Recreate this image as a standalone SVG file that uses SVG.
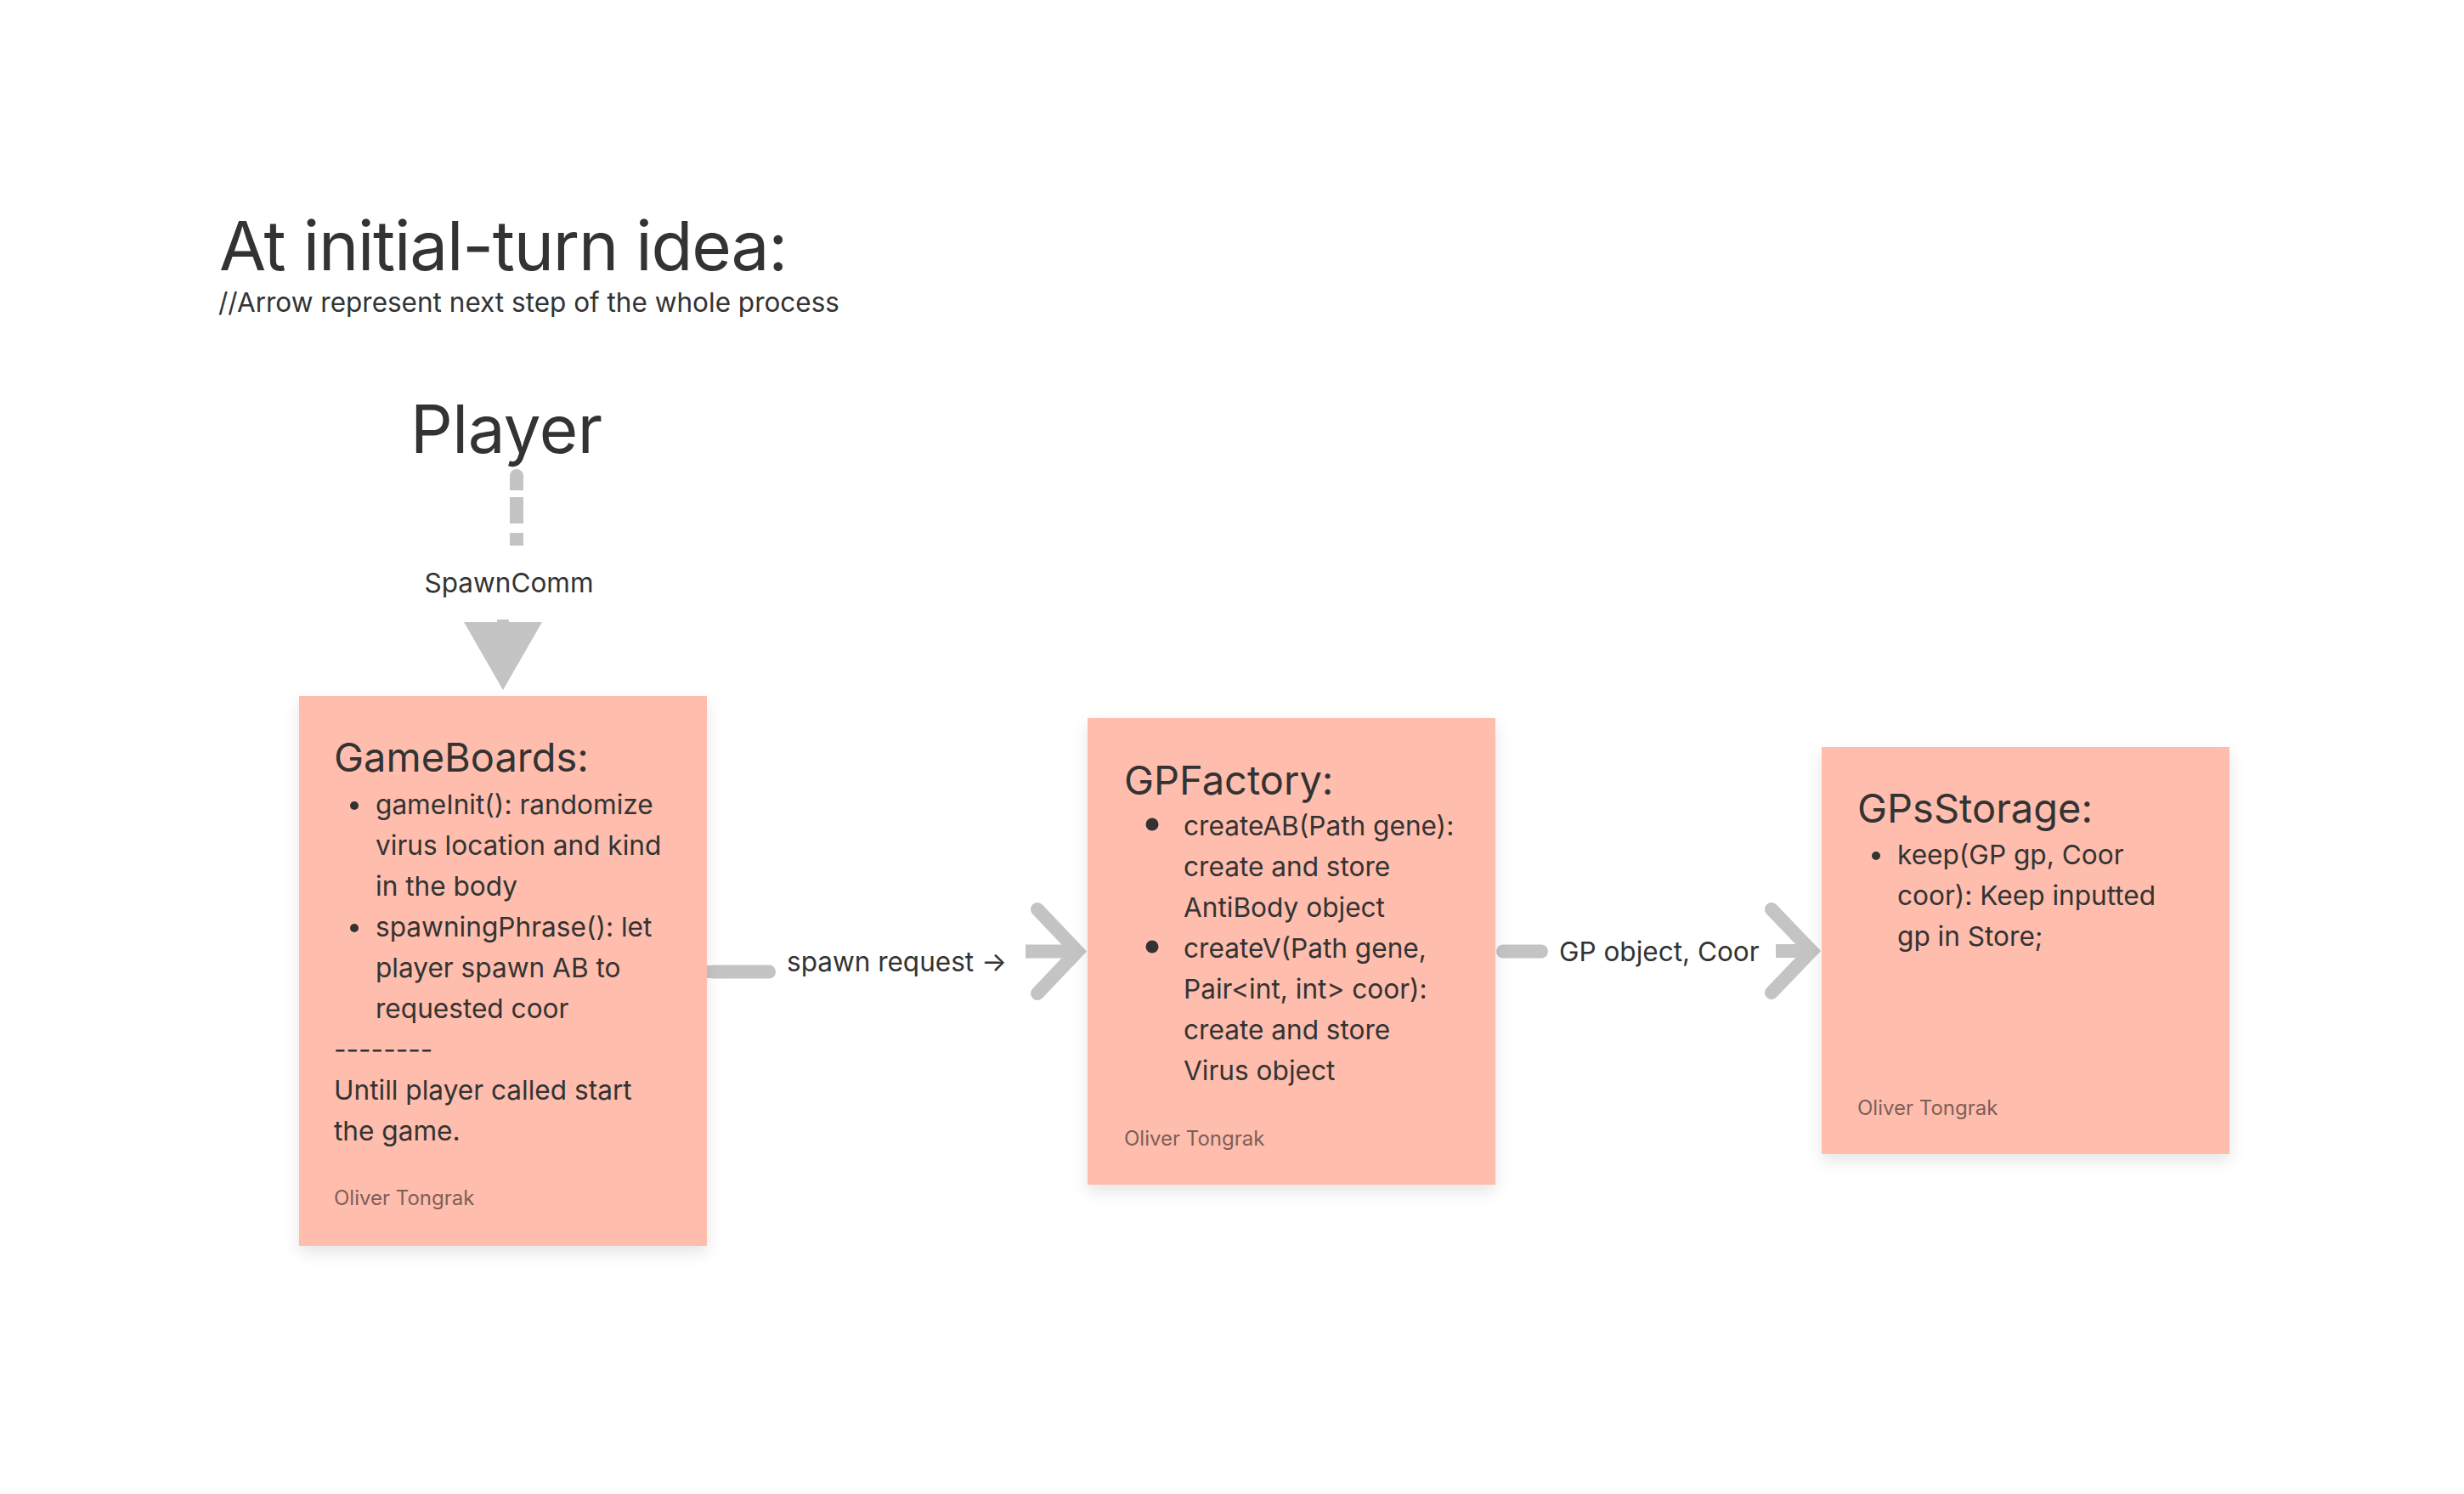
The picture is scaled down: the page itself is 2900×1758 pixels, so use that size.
<svg xmlns="http://www.w3.org/2000/svg" width="2900" height="1758" viewBox="0 0 2900 1758">
<defs>
<style>
text{font-family:Inter,"Noto Sans","Liberation Sans",sans-serif;fill:#333333}
.title{font-size:80px;letter-spacing:-1.2px}
.sub{font-size:31.5px}
.player{font-size:78px;letter-spacing:-0.5px}
.head{font-size:47px}
.body{font-size:31.6px}
.author{font-size:24px;fill:#7d5f58}
.lbl{font-size:31.5px}
.sticky{fill:#FFBDAD;filter:url(#sh)}
.conn{stroke:#c4c4c4;fill:none;stroke-width:16}
.dot{fill:#333333}
</style>
<filter id="sh" x="-20%" y="-20%" width="140%" height="140%">
<feDropShadow dx="0" dy="8" stdDeviation="9" flood-color="#000" flood-opacity="0.10"/>
</filter>
</defs>
<rect width="2900" height="1758" fill="#ffffff"/>

<g id="title">
<text class="title" x="258" y="318">At initial-turn idea:</text>
<text class="sub" x="257" y="367">//Arrow represent next step of the whole process</text>
</g>

<g id="player">
<text class="player" x="483" y="533">Player</text>
</g>

<g id="connectors">
<path d="M600,577 V560 A8,8 0 0 1 616,560 V577 Z" fill="#c4c4c4"/>
<rect x="600" y="585" width="16" height="31" fill="#c4c4c4"/>
<rect x="600" y="627" width="16" height="15" fill="#c4c4c4"/>
<text class="lbl" x="599" y="697" text-anchor="middle">SpawnComm</text>
<rect x="585" y="729" width="14" height="5" fill="#c4c4c4"/>
<polygon points="546,732 638,732 592,812" fill="#c4c4c4"/>

<path class="conn" d="M840,1143.5 H905" stroke-linecap="round"/>
<rect x="832" y="1136" width="73" height="15" fill="#c4c4c4"/>
<text class="lbl" x="926" y="1143">spawn request →</text>
<path class="conn" d="M1207,1119.5 H1265"/>
<path class="conn" d="M1221,1070 L1268,1119.5 L1221,1169" stroke-linecap="round" stroke-linejoin="miter"/>

<path class="conn" d="M1769,1119.5 H1814" stroke-linecap="round"/>
<text class="lbl" x="1835" y="1131">GP object, Coor</text>
<path class="conn" d="M2090,1119 H2130"/>
<path class="conn" d="M2085,1070 L2132,1119 L2085,1168" stroke-linecap="round" stroke-linejoin="miter"/>
</g>

<g id="gameboards">
<rect class="sticky" x="352" y="819" width="480" height="647"/>
<text class="head" x="393" y="908">GameBoards:</text>
<circle class="dot" cx="417" cy="948" r="5"/>
<circle class="dot" cx="417" cy="1092" r="5"/>
<text class="body" x="442" y="958">gameInit(): randomize</text>
<text class="body" x="442" y="1006">virus location and kind</text>
<text class="body" x="442" y="1054">in the body</text>
<text class="body" x="442" y="1102">spawningPhrase(): let</text>
<text class="body" x="442" y="1150">player spawn AB to</text>
<text class="body" x="442" y="1198">requested coor</text>
<text class="body" x="393" y="1246">--------</text>
<text class="body" x="393" y="1294">Untill player called start</text>
<text class="body" x="393" y="1342">the game.</text>
<text class="author" x="393" y="1418">Oliver Tongrak</text>
</g>

<g id="gpfactory">
<rect class="sticky" x="1280" y="845" width="480" height="549"/>
<text class="head" x="1323" y="935">GPFactory:</text>
<circle class="dot" cx="1356" cy="970" r="7.5"/>
<circle class="dot" cx="1356" cy="1114" r="7.5"/>
<text class="body" x="1393" y="983">createAB(Path gene):</text>
<text class="body" x="1393" y="1031">create and store</text>
<text class="body" x="1393" y="1079">AntiBody object</text>
<text class="body" x="1393" y="1127">createV(Path gene,</text>
<text class="body" x="1393" y="1175">Pair&lt;int, int&gt; coor):</text>
<text class="body" x="1393" y="1223">create and store</text>
<text class="body" x="1393" y="1271">Virus object</text>
<text class="author" x="1323" y="1348">Oliver Tongrak</text>
</g>

<g id="gpsstorage">
<rect class="sticky" x="2144" y="879" width="480" height="479"/>
<text class="head" x="2186" y="968">GPsStorage:</text>
<circle class="dot" cx="2208" cy="1007" r="5"/>
<text class="body" x="2233" y="1017">keep(GP gp, Coor</text>
<text class="body" x="2233" y="1065">coor): Keep inputted</text>
<text class="body" x="2233" y="1113">gp in Store;</text>
<text class="author" x="2186" y="1312">Oliver Tongrak</text>
</g>
</svg>
